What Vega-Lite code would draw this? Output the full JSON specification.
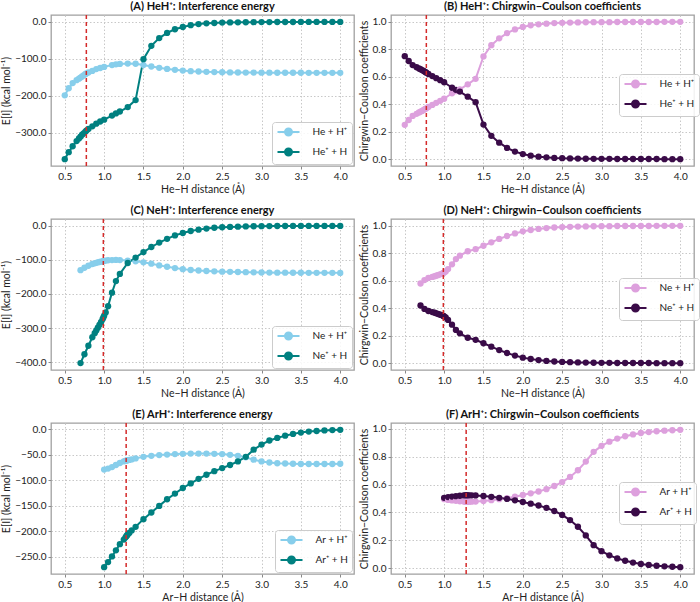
{
  "$schema": "https://vega.github.io/schema/vega-lite/v6.json",
  "padding": {"left": 0, "top": 0, "right": 0, "bottom": 0},
  "datasets": {
    "HeE": [
      {"r":0.5,"He + H⁺":-199,"He⁺ + H":-372},{"r":0.55,"He + H⁺":-180,"He⁺ + H":-353},{"r":0.6,"He + H⁺":-166,"He⁺ + H":-337},{"r":0.65,"He + H⁺":-158,"He⁺ + H":-323},{"r":0.68,"He + H⁺":-154,"He⁺ + H":-316},{"r":0.7,"He + H⁺":-151,"He⁺ + H":-311},{"r":0.72,"He + H⁺":-148,"He⁺ + H":-306},{"r":0.74,"He + H⁺":-145,"He⁺ + H":-302},{"r":0.76,"He + H⁺":-142,"He⁺ + H":-298},{"r":0.774,"He + H⁺":-140,"He⁺ + H":-295},{"r":0.8,"He + H⁺":-137,"He⁺ + H":-290},{"r":0.85,"He + H⁺":-133,"He⁺ + H":-283},{"r":0.9,"He + H⁺":-128,"He⁺ + H":-276},{"r":0.95,"He + H⁺":-125,"He⁺ + H":-270},{"r":1.0,"He + H⁺":-122,"He⁺ + H":-265},{"r":1.1,"He + H⁺":-117,"He⁺ + H":-254},{"r":1.15,"He + H⁺":-115,"He⁺ + H":-248},{"r":1.2,"He + H⁺":-114,"He⁺ + H":-243},{"r":1.3,"He + H⁺":-113,"He⁺ + H":-231},{"r":1.4,"He + H⁺":-113.5,"He⁺ + H":-212},{"r":1.5,"He + H⁺":-117,"He⁺ + H":-101},{"r":1.6,"He + H⁺":-121,"He⁺ + H":-65},{"r":1.7,"He + H⁺":-124.5,"He⁺ + H":-44},{"r":1.8,"He + H⁺":-127.5,"He⁺ + H":-30},{"r":1.9,"He + H⁺":-130,"He⁺ + H":-20},{"r":2.0,"He + H⁺":-132,"He⁺ + H":-14},{"r":2.1,"He + H⁺":-133.5,"He⁺ + H":-9},{"r":2.2,"He + H⁺":-134.5,"He⁺ + H":-6},{"r":2.3,"He + H⁺":-135.5,"He⁺ + H":-4},{"r":2.4,"He + H⁺":-136,"He⁺ + H":-3},{"r":2.5,"He + H⁺":-136.5,"He⁺ + H":-2},{"r":2.6,"He + H⁺":-137,"He⁺ + H":-1.5},{"r":2.7,"He + H⁺":-137.2,"He⁺ + H":-1.2},{"r":2.8,"He + H⁺":-137.4,"He⁺ + H":-1},{"r":2.9,"He + H⁺":-137.5,"He⁺ + H":-0.8},{"r":3.0,"He + H⁺":-137.6,"He⁺ + H":-0.6},{"r":3.1,"He + H⁺":-137.7,"He⁺ + H":-0.5},{"r":3.2,"He + H⁺":-137.8,"He⁺ + H":-0.4},{"r":3.3,"He + H⁺":-137.8,"He⁺ + H":-0.3},{"r":3.4,"He + H⁺":-137.9,"He⁺ + H":-0.3},{"r":3.5,"He + H⁺":-137.9,"He⁺ + H":-0.2},{"r":3.6,"He + H⁺":-138,"He⁺ + H":-0.2},{"r":3.7,"He + H⁺":-138,"He⁺ + H":-0.1},{"r":3.8,"He + H⁺":-138,"He⁺ + H":-0.1},{"r":3.9,"He + H⁺":-138,"He⁺ + H":-0.1},{"r":4.0,"He + H⁺":-138,"He⁺ + H":-0.1}
    ],
    "HeC": [
      {"r":0.5,"He + H⁺":0.25,"He⁺ + H":0.75},{"r":0.55,"He + H⁺":0.285,"He⁺ + H":0.715},{"r":0.6,"He + H⁺":0.315,"He⁺ + H":0.685},{"r":0.65,"He + H⁺":0.33,"He⁺ + H":0.67},{"r":0.68,"He + H⁺":0.34,"He⁺ + H":0.66},{"r":0.7,"He + H⁺":0.345,"He⁺ + H":0.655},{"r":0.72,"He + H⁺":0.351,"He⁺ + H":0.649},{"r":0.74,"He + H⁺":0.358,"He⁺ + H":0.642},{"r":0.76,"He + H⁺":0.365,"He⁺ + H":0.635},{"r":0.774,"He + H⁺":0.37,"He⁺ + H":0.63},{"r":0.8,"He + H⁺":0.38,"He⁺ + H":0.62},{"r":0.85,"He + H⁺":0.395,"He⁺ + H":0.605},{"r":0.9,"He + H⁺":0.41,"He⁺ + H":0.59},{"r":0.95,"He + H⁺":0.425,"He⁺ + H":0.575},{"r":1.0,"He + H⁺":0.44,"He⁺ + H":0.56},{"r":1.1,"He + H⁺":0.48,"He⁺ + H":0.52},{"r":1.15,"He + H⁺":0.495,"He⁺ + H":0.505},{"r":1.2,"He + H⁺":0.508,"He⁺ + H":0.492},{"r":1.3,"He + H⁺":0.545,"He⁺ + H":0.455},{"r":1.4,"He + H⁺":0.585,"He⁺ + H":0.415},{"r":1.5,"He + H⁺":0.748,"He⁺ + H":0.252},{"r":1.6,"He + H⁺":0.83,"He⁺ + H":0.17},{"r":1.7,"He + H⁺":0.88,"He⁺ + H":0.12},{"r":1.8,"He + H⁺":0.918,"He⁺ + H":0.082},{"r":1.9,"He + H⁺":0.945,"He⁺ + H":0.055},{"r":2.0,"He + H⁺":0.963,"He⁺ + H":0.037},{"r":2.1,"He + H⁺":0.975,"He⁺ + H":0.025},{"r":2.2,"He + H⁺":0.982,"He⁺ + H":0.018},{"r":2.3,"He + H⁺":0.987,"He⁺ + H":0.013},{"r":2.4,"He + H⁺":0.991,"He⁺ + H":0.009},{"r":2.5,"He + H⁺":0.993,"He⁺ + H":0.007},{"r":2.6,"He + H⁺":0.995,"He⁺ + H":0.005},{"r":2.7,"He + H⁺":0.996,"He⁺ + H":0.004},{"r":2.8,"He + H⁺":0.997,"He⁺ + H":0.003},{"r":2.9,"He + H⁺":0.998,"He⁺ + H":0.002},{"r":3.0,"He + H⁺":0.998,"He⁺ + H":0.002},{"r":3.1,"He + H⁺":0.998,"He⁺ + H":0.002},{"r":3.2,"He + H⁺":0.999,"He⁺ + H":0.001},{"r":3.3,"He + H⁺":0.999,"He⁺ + H":0.001},{"r":3.4,"He + H⁺":0.999,"He⁺ + H":0.001},{"r":3.5,"He + H⁺":0.999,"He⁺ + H":0.001},{"r":3.6,"He + H⁺":0.999,"He⁺ + H":0.001},{"r":3.7,"He + H⁺":0.999,"He⁺ + H":0.001},{"r":3.8,"He + H⁺":1.0,"He⁺ + H":0.0},{"r":3.9,"He + H⁺":1.0,"He⁺ + H":0.0},{"r":4.0,"He + H⁺":1.0,"He⁺ + H":0.0}
    ],
    "NeE": [
      {"r":0.7,"Ne + H⁺":-130,"Ne⁺ + H":-403},{"r":0.75,"Ne + H⁺":-123,"Ne⁺ + H":-377},{"r":0.8,"Ne + H⁺":-117,"Ne⁺ + H":-352},{"r":0.85,"Ne + H⁺":-112,"Ne⁺ + H":-327},{"r":0.88,"Ne + H⁺":-110,"Ne⁺ + H":-315},{"r":0.9,"Ne + H⁺":-108.5,"Ne⁺ + H":-307},{"r":0.92,"Ne + H⁺":-107,"Ne⁺ + H":-299},{"r":0.94,"Ne + H⁺":-106,"Ne⁺ + H":-291},{"r":0.96,"Ne + H⁺":-105,"Ne⁺ + H":-283},{"r":0.98,"Ne + H⁺":-104,"Ne⁺ + H":-274},{"r":0.99,"Ne + H⁺":-103.5,"Ne⁺ + H":-269},{"r":1.0,"Ne + H⁺":-103,"Ne⁺ + H":-264},{"r":1.02,"Ne + H⁺":-102,"Ne⁺ + H":-254},{"r":1.05,"Ne + H⁺":-101,"Ne⁺ + H":-236},{"r":1.1,"Ne + H⁺":-100.5,"Ne⁺ + H":-196},{"r":1.15,"Ne + H⁺":-100,"Ne⁺ + H":-162},{"r":1.2,"Ne + H⁺":-100.5,"Ne⁺ + H":-141},{"r":1.3,"Ne + H⁺":-102,"Ne⁺ + H":-109},{"r":1.4,"Ne + H⁺":-104,"Ne⁺ + H":-93},{"r":1.5,"Ne + H⁺":-107,"Ne⁺ + H":-77},{"r":1.6,"Ne + H⁺":-111,"Ne⁺ + H":-62},{"r":1.7,"Ne + H⁺":-116,"Ne⁺ + H":-49},{"r":1.8,"Ne + H⁺":-120,"Ne⁺ + H":-38},{"r":1.9,"Ne + H⁺":-124,"Ne⁺ + H":-28},{"r":2.0,"Ne + H⁺":-127,"Ne⁺ + H":-21},{"r":2.1,"Ne + H⁺":-129.5,"Ne⁺ + H":-15},{"r":2.2,"Ne + H⁺":-131,"Ne⁺ + H":-11},{"r":2.3,"Ne + H⁺":-132.5,"Ne⁺ + H":-8},{"r":2.4,"Ne + H⁺":-133.5,"Ne⁺ + H":-5.5},{"r":2.5,"Ne + H⁺":-134.5,"Ne⁺ + H":-4},{"r":2.6,"Ne + H⁺":-135,"Ne⁺ + H":-3},{"r":2.7,"Ne + H⁺":-135.5,"Ne⁺ + H":-2.2},{"r":2.8,"Ne + H⁺":-136,"Ne⁺ + H":-1.6},{"r":2.9,"Ne + H⁺":-136.5,"Ne⁺ + H":-1.1},{"r":3.0,"Ne + H⁺":-137,"Ne⁺ + H":-0.8},{"r":3.1,"Ne + H⁺":-137.2,"Ne⁺ + H":-0.6},{"r":3.2,"Ne + H⁺":-137.4,"Ne⁺ + H":-0.4},{"r":3.3,"Ne + H⁺":-137.5,"Ne⁺ + H":-0.3},{"r":3.4,"Ne + H⁺":-137.6,"Ne⁺ + H":-0.2},{"r":3.5,"Ne + H⁺":-137.7,"Ne⁺ + H":-0.2},{"r":3.6,"Ne + H⁺":-137.8,"Ne⁺ + H":-0.1},{"r":3.7,"Ne + H⁺":-137.8,"Ne⁺ + H":-0.1},{"r":3.8,"Ne + H⁺":-137.9,"Ne⁺ + H":-0.1},{"r":3.9,"Ne + H⁺":-137.9,"Ne⁺ + H":0},{"r":4.0,"Ne + H⁺":-138,"Ne⁺ + H":0}
    ],
    "NeC": [
      {"r":0.7,"Ne + H⁺":0.58,"Ne⁺ + H":0.42},{"r":0.75,"Ne + H⁺":0.605,"Ne⁺ + H":0.395},{"r":0.8,"Ne + H⁺":0.62,"Ne⁺ + H":0.38},{"r":0.85,"Ne + H⁺":0.628,"Ne⁺ + H":0.372},{"r":0.88,"Ne + H⁺":0.633,"Ne⁺ + H":0.367},{"r":0.9,"Ne + H⁺":0.637,"Ne⁺ + H":0.363},{"r":0.92,"Ne + H⁺":0.641,"Ne⁺ + H":0.359},{"r":0.94,"Ne + H⁺":0.645,"Ne⁺ + H":0.355},{"r":0.96,"Ne + H⁺":0.649,"Ne⁺ + H":0.351},{"r":0.98,"Ne + H⁺":0.653,"Ne⁺ + H":0.347},{"r":0.99,"Ne + H⁺":0.656,"Ne⁺ + H":0.344},{"r":1.0,"Ne + H⁺":0.66,"Ne⁺ + H":0.34},{"r":1.02,"Ne + H⁺":0.667,"Ne⁺ + H":0.333},{"r":1.05,"Ne + H⁺":0.685,"Ne⁺ + H":0.315},{"r":1.1,"Ne + H⁺":0.72,"Ne⁺ + H":0.28},{"r":1.15,"Ne + H⁺":0.758,"Ne⁺ + H":0.242},{"r":1.2,"Ne + H⁺":0.783,"Ne⁺ + H":0.217},{"r":1.3,"Ne + H⁺":0.815,"Ne⁺ + H":0.185},{"r":1.4,"Ne + H⁺":0.83,"Ne⁺ + H":0.17},{"r":1.5,"Ne + H⁺":0.855,"Ne⁺ + H":0.145},{"r":1.6,"Ne + H⁺":0.88,"Ne⁺ + H":0.12},{"r":1.7,"Ne + H⁺":0.905,"Ne⁺ + H":0.095},{"r":1.8,"Ne + H⁺":0.926,"Ne⁺ + H":0.074},{"r":1.9,"Ne + H⁺":0.945,"Ne⁺ + H":0.055},{"r":2.0,"Ne + H⁺":0.96,"Ne⁺ + H":0.04},{"r":2.1,"Ne + H⁺":0.97,"Ne⁺ + H":0.03},{"r":2.2,"Ne + H⁺":0.978,"Ne⁺ + H":0.022},{"r":2.3,"Ne + H⁺":0.984,"Ne⁺ + H":0.016},{"r":2.4,"Ne + H⁺":0.988,"Ne⁺ + H":0.012},{"r":2.5,"Ne + H⁺":0.991,"Ne⁺ + H":0.009},{"r":2.6,"Ne + H⁺":0.993,"Ne⁺ + H":0.007},{"r":2.7,"Ne + H⁺":0.995,"Ne⁺ + H":0.005},{"r":2.8,"Ne + H⁺":0.996,"Ne⁺ + H":0.004},{"r":2.9,"Ne + H⁺":0.997,"Ne⁺ + H":0.003},{"r":3.0,"Ne + H⁺":0.998,"Ne⁺ + H":0.002},{"r":3.1,"Ne + H⁺":0.998,"Ne⁺ + H":0.002},{"r":3.2,"Ne + H⁺":0.999,"Ne⁺ + H":0.001},{"r":3.3,"Ne + H⁺":0.999,"Ne⁺ + H":0.001},{"r":3.4,"Ne + H⁺":0.999,"Ne⁺ + H":0.001},{"r":3.5,"Ne + H⁺":0.999,"Ne⁺ + H":0.001},{"r":3.6,"Ne + H⁺":0.999,"Ne⁺ + H":0.001},{"r":3.7,"Ne + H⁺":1.0,"Ne⁺ + H":0.0},{"r":3.8,"Ne + H⁺":1.0,"Ne⁺ + H":0.0},{"r":3.9,"Ne + H⁺":1.0,"Ne⁺ + H":0.0},{"r":4.0,"Ne + H⁺":1.0,"Ne⁺ + H":0.0}
    ],
    "ArE": [
      {"r":1.0,"Ar + H⁺":-79,"Ar⁺ + H":-270},{"r":1.05,"Ar + H⁺":-77,"Ar⁺ + H":-260},{"r":1.1,"Ar + H⁺":-74,"Ar⁺ + H":-249},{"r":1.15,"Ar + H⁺":-70,"Ar⁺ + H":-237},{"r":1.2,"Ar + H⁺":-66,"Ar⁺ + H":-225},{"r":1.25,"Ar + H⁺":-63,"Ar⁺ + H":-216},{"r":1.27,"Ar + H⁺":-62,"Ar⁺ + H":-212},{"r":1.28,"Ar + H⁺":-61.5,"Ar⁺ + H":-210},{"r":1.29,"Ar + H⁺":-61,"Ar⁺ + H":-208},{"r":1.3,"Ar + H⁺":-60.5,"Ar⁺ + H":-206},{"r":1.32,"Ar + H⁺":-60,"Ar⁺ + H":-203},{"r":1.35,"Ar + H⁺":-59,"Ar⁺ + H":-198},{"r":1.4,"Ar + H⁺":-57,"Ar⁺ + H":-191},{"r":1.5,"Ar + H⁺":-54,"Ar⁺ + H":-176},{"r":1.6,"Ar + H⁺":-52,"Ar⁺ + H":-163},{"r":1.7,"Ar + H⁺":-50.5,"Ar⁺ + H":-150},{"r":1.8,"Ar + H⁺":-49.5,"Ar⁺ + H":-137},{"r":1.9,"Ar + H⁺":-48.5,"Ar⁺ + H":-126},{"r":2.0,"Ar + H⁺":-48,"Ar⁺ + H":-115},{"r":2.1,"Ar + H⁺":-47.5,"Ar⁺ + H":-106},{"r":2.2,"Ar + H⁺":-47.5,"Ar⁺ + H":-97},{"r":2.3,"Ar + H⁺":-47.5,"Ar⁺ + H":-89},{"r":2.4,"Ar + H⁺":-48,"Ar⁺ + H":-82},{"r":2.5,"Ar + H⁺":-48.5,"Ar⁺ + H":-76},{"r":2.6,"Ar + H⁺":-50,"Ar⁺ + H":-70},{"r":2.7,"Ar + H⁺":-52,"Ar⁺ + H":-63},{"r":2.8,"Ar + H⁺":-55,"Ar⁺ + H":-54},{"r":2.9,"Ar + H⁺":-59.5,"Ar⁺ + H":-40},{"r":3.0,"Ar + H⁺":-63,"Ar⁺ + H":-30},{"r":3.1,"Ar + H⁺":-65,"Ar⁺ + H":-22},{"r":3.2,"Ar + H⁺":-66.5,"Ar⁺ + H":-17},{"r":3.3,"Ar + H⁺":-67,"Ar⁺ + H":-12.5},{"r":3.4,"Ar + H⁺":-67.5,"Ar⁺ + H":-9},{"r":3.5,"Ar + H⁺":-68,"Ar⁺ + H":-6.5},{"r":3.6,"Ar + H⁺":-68,"Ar⁺ + H":-4.5},{"r":3.7,"Ar + H⁺":-68,"Ar⁺ + H":-3.3},{"r":3.8,"Ar + H⁺":-68,"Ar⁺ + H":-2.3},{"r":3.9,"Ar + H⁺":-68,"Ar⁺ + H":-1.6},{"r":4.0,"Ar + H⁺":-67.5,"Ar⁺ + H":-1.1}
    ],
    "ArC": [
      {"r":1.0,"Ar + H⁺":0.495,"Ar⁺ + H":0.505},{"r":1.05,"Ar + H⁺":0.49,"Ar⁺ + H":0.51},{"r":1.1,"Ar + H⁺":0.486,"Ar⁺ + H":0.514},{"r":1.15,"Ar + H⁺":0.483,"Ar⁺ + H":0.517},{"r":1.2,"Ar + H⁺":0.48,"Ar⁺ + H":0.52},{"r":1.25,"Ar + H⁺":0.478,"Ar⁺ + H":0.522},{"r":1.27,"Ar + H⁺":0.477,"Ar⁺ + H":0.523},{"r":1.28,"Ar + H⁺":0.477,"Ar⁺ + H":0.523},{"r":1.29,"Ar + H⁺":0.477,"Ar⁺ + H":0.523},{"r":1.3,"Ar + H⁺":0.477,"Ar⁺ + H":0.523},{"r":1.32,"Ar + H⁺":0.477,"Ar⁺ + H":0.523},{"r":1.35,"Ar + H⁺":0.477,"Ar⁺ + H":0.523},{"r":1.4,"Ar + H⁺":0.478,"Ar⁺ + H":0.522},{"r":1.5,"Ar + H⁺":0.482,"Ar⁺ + H":0.518},{"r":1.6,"Ar + H⁺":0.488,"Ar⁺ + H":0.512},{"r":1.7,"Ar + H⁺":0.495,"Ar⁺ + H":0.505},{"r":1.8,"Ar + H⁺":0.503,"Ar⁺ + H":0.497},{"r":1.9,"Ar + H⁺":0.513,"Ar⁺ + H":0.487},{"r":2.0,"Ar + H⁺":0.525,"Ar⁺ + H":0.475},{"r":2.1,"Ar + H⁺":0.537,"Ar⁺ + H":0.463},{"r":2.2,"Ar + H⁺":0.55,"Ar⁺ + H":0.45},{"r":2.3,"Ar + H⁺":0.567,"Ar⁺ + H":0.433},{"r":2.4,"Ar + H⁺":0.59,"Ar⁺ + H":0.41},{"r":2.5,"Ar + H⁺":0.618,"Ar⁺ + H":0.382},{"r":2.6,"Ar + H⁺":0.655,"Ar⁺ + H":0.345},{"r":2.7,"Ar + H⁺":0.703,"Ar⁺ + H":0.297},{"r":2.8,"Ar + H⁺":0.765,"Ar⁺ + H":0.235},{"r":2.9,"Ar + H⁺":0.835,"Ar⁺ + H":0.165},{"r":3.0,"Ar + H⁺":0.878,"Ar⁺ + H":0.122},{"r":3.1,"Ar + H⁺":0.908,"Ar⁺ + H":0.092},{"r":3.2,"Ar + H⁺":0.93,"Ar⁺ + H":0.07},{"r":3.3,"Ar + H⁺":0.947,"Ar⁺ + H":0.053},{"r":3.4,"Ar + H⁺":0.96,"Ar⁺ + H":0.04},{"r":3.5,"Ar + H⁺":0.97,"Ar⁺ + H":0.03},{"r":3.6,"Ar + H⁺":0.977,"Ar⁺ + H":0.023},{"r":3.7,"Ar + H⁺":0.983,"Ar⁺ + H":0.017},{"r":3.8,"Ar + H⁺":0.987,"Ar⁺ + H":0.013},{"r":3.9,"Ar + H⁺":0.99,"Ar⁺ + H":0.01},{"r":4.0,"Ar + H⁺":0.993,"Ar⁺ + H":0.007}
    ]
  },
  "columns": 2,
  "spacing": {"row": 8, "column": 3},
  "resolve": {"scale": {"x": "independent", "y": "independent", "color": "independent"}, "legend": {"color": "independent"}},
  "concat": [
    {
      "width": 303, "height": 151,
      "title": "(A) HeH⁺: Interference energy",
      "layer": [
        {
          "data": {"name": "HeE"},
          "transform": [{"fold": ["He + H⁺", "He⁺ + H"], "as": ["state", "v"]}],
          "mark": {"type": "line", "strokeWidth": 2, "point": {"filled": true, "size": 40}},
          "encoding": {
            "x": {"field": "r", "type": "quantitative", "title": "He−H distance (Å)", "scale": {"domain": [0.325, 4.175], "nice": false, "zero": false}, "axis": {"values": [0.5,1,1.5,2,2.5,3,3.5,4], "format": ".1f"}},
            "y": {"field": "v", "type": "quantitative", "title": "E[I] (kcal mol⁻¹)", "scale": {"domain": [-390.6, 18.6], "nice": false, "zero": false}, "axis": {"values": [-300,-200,-100,0], "format": ".1f"}},
            "color": {"field": "state", "type": "nominal", "scale": {"domain": ["He + H⁺", "He⁺ + H"], "range": ["#87ceeb", "#008080"]}, "legend": {"title": null, "orient": "bottom-right", "offset": 2}}
          }
        },
        {"data": {"values": [{"req": 0.774}]}, "mark": {"type": "rule", "color": "#d42a2a", "strokeDash": [4, 3], "strokeWidth": 1.5}, "encoding": {"x": {"field": "req", "type": "quantitative"}}}
      ]
    },
    {
      "width": 303, "height": 151,
      "title": "(B) HeH⁺: Chirgwin−Coulson coefficients",
      "layer": [
        {
          "data": {"name": "HeC"},
          "transform": [{"fold": ["He + H⁺", "He⁺ + H"], "as": ["state", "v"]}],
          "mark": {"type": "line", "strokeWidth": 2, "point": {"filled": true, "size": 40}},
          "encoding": {
            "x": {"field": "r", "type": "quantitative", "title": "He−H distance (Å)", "scale": {"domain": [0.325, 4.175], "nice": false, "zero": false}, "axis": {"values": [0.5,1,1.5,2,2.5,3,3.5,4], "format": ".1f"}},
            "y": {"field": "v", "type": "quantitative", "title": "Chirgwin−Coulson coefficients", "scale": {"domain": [-0.05, 1.05], "nice": false, "zero": false}, "axis": {"values": [0,0.2,0.4,0.6,0.8,1], "format": ".1f"}},
            "color": {"field": "state", "type": "nominal", "scale": {"domain": ["He + H⁺", "He⁺ + H"], "range": ["#dda0dd", "#3a0b48"]}, "legend": {"title": null, "orient": "none", "legendX": 228, "legendY": 59}}
          }
        },
        {"data": {"values": [{"req": 0.774}]}, "mark": {"type": "rule", "color": "#d42a2a", "strokeDash": [4, 3], "strokeWidth": 1.5}, "encoding": {"x": {"field": "req", "type": "quantitative"}}}
      ]
    },
    {
      "width": 303, "height": 151,
      "title": "(C) NeH⁺: Interference energy",
      "layer": [
        {
          "data": {"name": "NeE"},
          "transform": [{"fold": ["Ne + H⁺", "Ne⁺ + H"], "as": ["state", "v"]}],
          "mark": {"type": "line", "strokeWidth": 2, "point": {"filled": true, "size": 40}},
          "encoding": {
            "x": {"field": "r", "type": "quantitative", "title": "Ne−H distance (Å)", "scale": {"domain": [0.325, 4.175], "nice": false, "zero": false}, "axis": {"values": [0.5,1,1.5,2,2.5,3,3.5,4], "format": ".1f"}},
            "y": {"field": "v", "type": "quantitative", "title": "E[I] (kcal mol⁻¹)", "scale": {"domain": [-423.2, 20.2], "nice": false, "zero": false}, "axis": {"values": [-400,-300,-200,-100,0], "format": ".1f"}},
            "color": {"field": "state", "type": "nominal", "scale": {"domain": ["Ne + H⁺", "Ne⁺ + H"], "range": ["#87ceeb", "#008080"]}, "legend": {"title": null, "orient": "bottom-right", "offset": 2}}
          }
        },
        {"data": {"values": [{"req": 0.99}]}, "mark": {"type": "rule", "color": "#d42a2a", "strokeDash": [4, 3], "strokeWidth": 1.5}, "encoding": {"x": {"field": "req", "type": "quantitative"}}}
      ]
    },
    {
      "width": 303, "height": 151,
      "title": "(D) NeH⁺: Chirgwin−Coulson coefficients",
      "layer": [
        {
          "data": {"name": "NeC"},
          "transform": [{"fold": ["Ne + H⁺", "Ne⁺ + H"], "as": ["state", "v"]}],
          "mark": {"type": "line", "strokeWidth": 2, "point": {"filled": true, "size": 40}},
          "encoding": {
            "x": {"field": "r", "type": "quantitative", "title": "Ne−H distance (Å)", "scale": {"domain": [0.325, 4.175], "nice": false, "zero": false}, "axis": {"values": [0.5,1,1.5,2,2.5,3,3.5,4], "format": ".1f"}},
            "y": {"field": "v", "type": "quantitative", "title": "Chirgwin−Coulson coefficients", "scale": {"domain": [-0.05, 1.05], "nice": false, "zero": false}, "axis": {"values": [0,0.2,0.4,0.6,0.8,1], "format": ".1f"}},
            "color": {"field": "state", "type": "nominal", "scale": {"domain": ["Ne + H⁺", "Ne⁺ + H"], "range": ["#dda0dd", "#3a0b48"]}, "legend": {"title": null, "orient": "none", "legendX": 228, "legendY": 59}}
          }
        },
        {"data": {"values": [{"req": 0.99}]}, "mark": {"type": "rule", "color": "#d42a2a", "strokeDash": [4, 3], "strokeWidth": 1.5}, "encoding": {"x": {"field": "req", "type": "quantitative"}}}
      ]
    },
    {
      "width": 303, "height": 151,
      "title": "(E) ArH⁺: Interference energy",
      "layer": [
        {
          "data": {"name": "ArE"},
          "transform": [{"fold": ["Ar + H⁺", "Ar⁺ + H"], "as": ["state", "v"]}],
          "mark": {"type": "line", "strokeWidth": 2, "point": {"filled": true, "size": 40}},
          "encoding": {
            "x": {"field": "r", "type": "quantitative", "title": "Ar−H distance (Å)", "scale": {"domain": [0.325, 4.175], "nice": false, "zero": false}, "axis": {"values": [0.5,1,1.5,2,2.5,3,3.5,4], "format": ".1f"}},
            "y": {"field": "v", "type": "quantitative", "title": "E[I] (kcal mol⁻¹)", "scale": {"domain": [-283.4, 12.3], "nice": false, "zero": false}, "axis": {"values": [-250,-200,-150,-100,-50,0], "format": ".1f"}},
            "color": {"field": "state", "type": "nominal", "scale": {"domain": ["Ar + H⁺", "Ar⁺ + H"], "range": ["#87ceeb", "#008080"]}, "legend": {"title": null, "orient": "bottom-right", "offset": 2}}
          }
        },
        {"data": {"values": [{"req": 1.28}]}, "mark": {"type": "rule", "color": "#d42a2a", "strokeDash": [4, 3], "strokeWidth": 1.5}, "encoding": {"x": {"field": "req", "type": "quantitative"}}}
      ]
    },
    {
      "width": 303, "height": 151,
      "title": "(F) ArH⁺: Chirgwin−Coulson coefficients",
      "layer": [
        {
          "data": {"name": "ArC"},
          "transform": [{"fold": ["Ar + H⁺", "Ar⁺ + H"], "as": ["state", "v"]}],
          "mark": {"type": "line", "strokeWidth": 2, "point": {"filled": true, "size": 40}},
          "encoding": {
            "x": {"field": "r", "type": "quantitative", "title": "Ar−H distance (Å)", "scale": {"domain": [0.325, 4.175], "nice": false, "zero": false}, "axis": {"values": [0.5,1,1.5,2,2.5,3,3.5,4], "format": ".1f"}},
            "y": {"field": "v", "type": "quantitative", "title": "Chirgwin−Coulson coefficients", "scale": {"domain": [-0.042, 1.042], "nice": false, "zero": false}, "axis": {"values": [0,0.2,0.4,0.6,0.8,1], "format": ".1f"}},
            "color": {"field": "state", "type": "nominal", "scale": {"domain": ["Ar + H⁺", "Ar⁺ + H"], "range": ["#dda0dd", "#3a0b48"]}, "legend": {"title": null, "orient": "none", "legendX": 228, "legendY": 59}}
          }
        },
        {"data": {"values": [{"req": 1.28}]}, "mark": {"type": "rule", "color": "#d42a2a", "strokeDash": [4, 3], "strokeWidth": 1.5}, "encoding": {"x": {"field": "req", "type": "quantitative"}}}
      ]
    }
  ],
  "config": {
    "font": "Lato",
    "view": {"stroke": "#a0a0a0", "strokeWidth": 1.3},
    "axis": {"grid": true, "gridDash": [1.5, 2], "gridColor": "#c8c8c8", "domain": false, "tickColor": "#888888", "tickSize": 3, "labelFontSize": 10, "titleFontSize": 10.5, "titleFontWeight": "normal", "labelColor": "#222222", "titleColor": "#222222", "labelPadding": 2, "titlePadding": 3},
    "title": {"fontSize": 11, "fontWeight": "bold", "offset": 2, "color": "#111111"},
    "legend": {"fillColor": "rgba(255,255,255,0.85)", "strokeColor": "#cccccc", "cornerRadius": 3, "padding": 4, "labelFontSize": 10, "labelColor": "#222222", "symbolType": "M-2.2,0L2.2,0M-0.7,0A0.7,0.7,0,1,1,0.7,0A0.7,0.7,0,1,1,-0.7,0Z", "symbolSize": 100, "symbolStrokeWidth": 2, "symbolOffset": 6.5, "rowPadding": 4, "labelOffset": 18}
  }
}
